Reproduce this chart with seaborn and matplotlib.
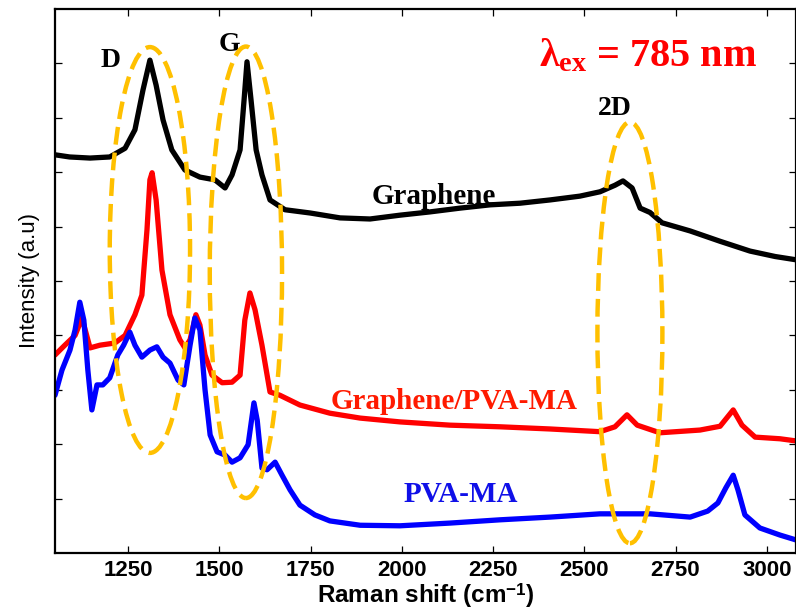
import numpy as np
import pandas as pd
import matplotlib
matplotlib.use("Agg")
import matplotlib.pyplot as plt
from matplotlib.patches import Ellipse
import seaborn as sns

# Raman spectra (785 nm excitation), intensities offset for display
graphene_shift = [1050, 1090, 1146, 1200, 1242, 1269, 1291, 1310, 1327, 1346, 1370, 1406,
                  1447, 1488, 1516, 1535, 1557, 1568, 1576, 1587, 1601, 1617, 1639, 1680,
                  1749, 1831, 1913, 1995, 2077, 2160, 2242, 2324, 2406, 2488, 2543, 2584,
                  2606, 2631, 2653, 2680, 2713, 2790, 2872, 2954, 3023, 3080]
graphene_int = [7.32, 7.28, 7.26, 7.28, 7.44, 7.78, 8.51, 9.06, 8.60, 7.96, 7.41, 7.04,
                6.91, 6.86, 6.71, 6.95, 7.41, 8.33, 9.03, 8.33, 7.41, 6.95, 6.49, 6.31,
                6.25, 6.16, 6.14, 6.21, 6.27, 6.34, 6.40, 6.43, 6.49, 6.56, 6.64, 6.76,
                6.84, 6.71, 6.34, 6.26, 6.07, 5.92, 5.73, 5.55, 5.45, 5.39]

composite_shift = [1050, 1077, 1105, 1124, 1146, 1173, 1214, 1242, 1269, 1288, 1302, 1310,
                   1316, 1327, 1343, 1365, 1392, 1406, 1420, 1436, 1447, 1461, 1480, 1508,
                   1535, 1557, 1570, 1584, 1598, 1617, 1639, 1666, 1721, 1803, 1886, 1995,
                   2132, 2269, 2406, 2543, 2584, 2617, 2645, 2707, 2817, 2872, 2908, 2932,
                   2968, 3036, 3080]
composite_int = [3.64, 3.82, 4.00, 4.32, 3.77, 3.82, 3.86, 4.00, 4.38, 4.74, 5.94, 6.86,
                 6.99, 6.49, 5.20, 4.38, 3.92, 3.77, 3.92, 4.38, 4.19, 3.64, 3.27, 3.13,
                 3.14, 3.27, 4.28, 4.78, 4.47, 3.82, 2.96, 2.90, 2.72, 2.57, 2.48, 2.41,
                 2.35, 2.32, 2.28, 2.23, 2.32, 2.54, 2.35, 2.21, 2.26, 2.33, 2.63, 2.35,
                 2.13, 2.10, 2.06]

pva_shift = [1050, 1069, 1091, 1105, 1118, 1129, 1140, 1151, 1165, 1181, 1200, 1222,
             1238, 1255, 1269, 1288, 1310, 1329, 1346, 1365, 1387, 1403, 1420, 1433,
             1447, 1461, 1475, 1494, 1516, 1535, 1557, 1579, 1595, 1604, 1617, 1631,
             1653, 1672, 1694, 1721, 1762, 1803, 1886, 1995, 2132, 2269, 2406, 2543,
             2680, 2790, 2838, 2866, 2888, 2908, 2921, 2940, 2981, 3036, 3080]
pva_int = [2.90, 3.36, 3.73, 4.10, 4.61, 4.28, 3.36, 2.63, 3.09, 3.09, 3.22, 3.64,
           3.82, 4.06, 3.82, 3.60, 3.73, 3.79, 3.60, 3.49, 3.18, 3.09, 3.82, 4.32,
           4.10, 3.00, 2.17, 1.86, 1.80, 1.67, 1.75, 1.99, 2.76, 2.44, 1.56, 1.53,
           1.67, 1.43, 1.16, 0.88, 0.70, 0.59, 0.51, 0.50, 0.55, 0.61, 0.66, 0.72,
           0.72, 0.66, 0.77, 0.92, 1.20, 1.43, 1.16, 0.70, 0.46, 0.33, 0.24]

x_ticks = [1250, 1500, 1750, 2000, 2250, 2500, 2750, 3000]

# Highlighted band regions: (centre shift, centre intensity, width, height)
band_regions = {"D": (1310, 5.57, 220, 7.46),
                "G": (1573, 5.16, 198, 8.30),
                "2D": (2625, 4.05, 178, 7.74)}

sns.set_theme(style="ticks")
plt.rcParams["text.color"] = "black"
plt.rcParams["axes.labelcolor"] = "black"
plt.rcParams["xtick.color"] = "black"
plt.rcParams["ytick.color"] = "black"
plt.rcParams["mathtext.fontset"] = "custom"
plt.rcParams["mathtext.rm"] = "Liberation Serif:bold"
plt.rcParams["mathtext.it"] = "Liberation Serif:bold"
plt.rcParams["mathtext.bf"] = "Liberation Serif:bold"
plt.rcParams["mathtext.sf"] = "Liberation Sans:bold"

fig = plt.figure(figsize=(7.96, 6.10), dpi=100)
ax = fig.add_axes([55 / 796, 57 / 610, 741 / 796, 544 / 610])

series = [(graphene_shift, graphene_int, "#000000"),
          (composite_shift, composite_int, "#FF0000"),
          (pva_shift, pva_int, "#0000FF")]
for xs, ys, col in series:
    df = pd.DataFrame({"shift": xs, "intensity": ys})
    sns.lineplot(data=df, x="shift", y="intensity", color=col, linewidth=3.8,
                 ax=ax, sort=False, estimator=None)

for (cx, cy, w, h) in band_regions.values():
    ax.add_patch(Ellipse((cx, cy), w, h, fill=False, edgecolor="#FFC000",
                         linewidth=3.2, linestyle=(0, (4.0, 1.8)), zorder=5))

ax.set_xlim(1050, 3080)
ax.set_ylim(0, 10)
ax.set_xticks(x_ticks)
ax.set_yticks(range(1, 10))
ax.set_yticklabels([])
ax.tick_params(axis="both", direction="in", length=5, width=0.9, color="black",
               top=True, right=True)
ax.tick_params(axis="x", labelsize=16, pad=5)
for lbl in ax.get_xticklabels():
    lbl.set_fontfamily("Liberation Sans")
    lbl.set_fontweight("bold")
for sp in ax.spines.values():
    sp.set_linewidth(1.6)
    sp.set_color("black")

ax.set_xlabel(r"Raman shift (cm$^{\mathsf{-1}}$)", fontsize=17.5, fontweight="bold",
              family="Liberation Sans", labelpad=0)
ax.set_ylabel("Intensity (a.u)", fontsize=16, family="Liberation Sans", labelpad=7)

serif = "Liberation Serif"
ax.text(1201, 9.06, "D", fontsize=20, fontweight="bold", family=serif,
        ha="center", va="center")
ax.text(1529, 9.34, "G", fontsize=20, fontweight="bold", family=serif,
        ha="center", va="center")
ax.text(2584, 8.18, "2D", fontsize=20, fontweight="bold", family=serif,
        ha="center", va="center")
ax.text(2675, 9.12, r"$\lambda_{ex}$ = 785 nm", fontsize=29, fontweight="bold",
        family=serif, color="#FF0000", ha="center", va="center")
ax.text(2088, 6.56, "Graphene", fontsize=21, fontweight="bold", family=serif,
        ha="center", va="center")
ax.text(2143, 2.78, "Graphene/PVA-MA", fontsize=21, fontweight="bold", family=serif,
        color="#FF1a00", ha="center", va="center")
ax.text(2162, 1.07, "PVA-MA", fontsize=21, fontweight="bold", family=serif,
        color="#1010E8", ha="center", va="center")

fig.savefig("out.png", dpi=100)
